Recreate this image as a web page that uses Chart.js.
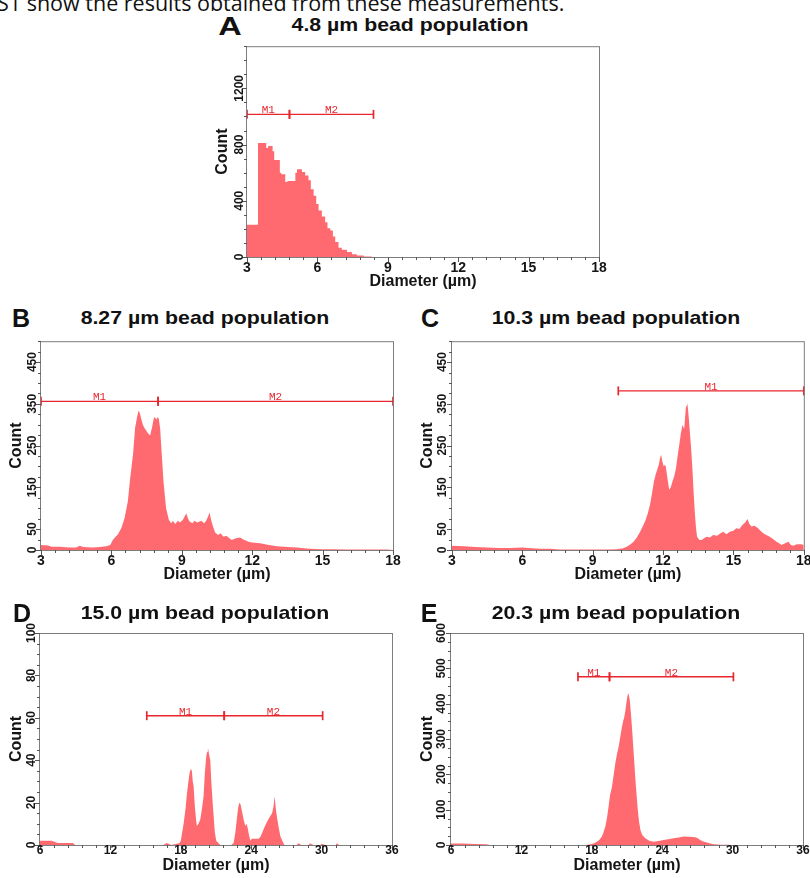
<!DOCTYPE html>
<html>
<head>
<meta charset="utf-8">
<script src="https://cdn.jsdelivr.net/npm/chart.js@4.4.1/dist/chart.umd.min.js"></script>
<style>
  html, body { margin: 0; padding: 0; background: #fff; }
  body { width: 810px; height: 878px; position: relative; overflow: hidden; font-family: "Liberation Sans", Arial, sans-serif; }
  canvas { position: absolute; }
  .lead { position: absolute; left: -3px; top: -8px; font-family: "Open Sans", sans-serif; font-size: 21.5px; line-height: 1; color: #111; white-space: nowrap; }
  .t { position: absolute; white-space: nowrap; line-height: 1; font-weight: bold; color: #111; }
  .ttl { font-size: 19px; transform: translateX(-50%) scaleX(1.12); }
  .let { font-size: 25px; transform: translateX(-50%); }
</style>
</head>
<body>
<div class="lead">S1 show the results obtained from these measurements.</div>

<canvas id="cA" width="406" height="252" style="left:205px;top:40px"></canvas>
<canvas id="cB" width="405" height="251" style="left:0px;top:335px"></canvas>
<canvas id="cC" width="399" height="251" style="left:411px;top:335px"></canvas>
<canvas id="cD" width="404" height="263" style="left:0px;top:615px"></canvas>
<canvas id="cE" width="399" height="263" style="left:411px;top:615px"></canvas>

<div class="t let" style="left:230px;top:14px;transform:translateX(-50%) scaleX(1.3)">A</div>
<div class="t ttl" style="left:410px;top:14.6px">4.8 µm bead population</div>
<div class="t let" style="left:21px;top:305.5px">B</div>
<div class="t ttl" style="left:205px;top:308px">8.27 µm bead population</div>
<div class="t let" style="left:430px;top:305.5px">C</div>
<div class="t ttl" style="left:616px;top:308px">10.3 µm bead population</div>
<div class="t let" style="left:22px;top:600.5px">D</div>
<div class="t ttl" style="left:205px;top:603px">15.0 µm bead population</div>
<div class="t let" style="left:429px;top:600.5px">E</div>
<div class="t ttl" style="left:616px;top:603px">20.3 µm bead population</div>

<script>
// ---- A: 4.8 µm beads (bin starts in µm, counts) ----
const aDiam = [3.0, 3.47, 3.82, 3.90, 4.09, 4.16, 4.40, 4.46, 4.63, 4.72, 5.06, 5.13, 5.34, 5.48, 5.62, 5.72, 5.84, 5.95, 6.05,
  6.19, 6.33, 6.43, 6.55, 6.66, 6.76, 6.90, 7.04, 7.26, 7.47, 7.68, 7.97, 8.32];
const aCount = [230, 812, 775, 790, 752, 690, 600, 588, 534, 540, 600, 625, 605, 580, 546, 482, 435, 377, 330,
  288, 247, 205, 188, 146, 106, 66, 52, 36, 19, 10, 4, 0];
const aMarkEdges = [3.0, 4.81, 8.39];
const aMarkNames = ['M1', 'M2'];
const aMarkLevel = 1015;
const aYTicks = [0, 400, 800, 1200];

// ---- B: 8.27 µm beads ----
const bDiam = [3.0, 3.3, 3.45, 3.8, 4.2, 4.5, 4.65, 4.8, 5.2, 5.5, 5.78, 5.95, 6.06, 6.18, 6.28, 6.42, 6.56, 6.70, 6.80, 6.92,
  7.01, 7.10, 7.16, 7.22, 7.27, 7.34, 7.41, 7.48, 7.55, 7.65, 7.74, 7.81, 7.86, 7.91, 7.96, 8.02, 8.08, 8.12, 8.22, 8.33,
  8.45, 8.55, 8.62, 8.72, 8.83, 8.92, 9.04, 9.12, 9.19, 9.26, 9.33, 9.45, 9.54, 9.66, 9.83, 9.95, 10.04, 10.12, 10.18, 10.25,
  10.32, 10.42, 10.55, 10.65, 10.78, 10.9, 11.03, 11.13, 11.3, 11.49, 11.6, 11.84, 12.0, 12.34, 12.6, 13.04, 13.5, 13.9,
  14.2, 14.47, 15.0, 15.46, 16.0, 16.45, 17.0, 17.73, 18.0];
const bCount = [12, 11, 8, 8, 6, 6, 10, 7, 6, 7, 9, 12, 24, 32, 38, 52, 76, 116, 172, 228,
  292, 320, 334, 326, 314, 300, 292, 286, 280, 274, 296, 316, 318, 312, 318, 314, 290, 252, 164, 100,
  72, 64, 70, 62, 70, 66, 72, 80, 88, 76, 68, 64, 70, 66, 70, 64, 70, 80, 90, 72,
  58, 42, 36, 40, 32, 34, 28, 24, 28, 30, 26, 20, 18, 16, 13, 9, 7, 6,
  4, 3, 2, 2, 1, 1, 1, 1, 0];
const bMarkEdges = [3.0, 7.99, 18.0];
const bMarkNames = ['M1', 'M2'];
const bMarkLevel = 356;
const bYTicks = [0, 50, 150, 250, 350, 450];

// ---- C: 10.3 µm beads ----
const cDiam = [3.0, 3.5, 4.0, 4.5, 5.0, 5.5, 6.0, 6.4, 6.8, 7.2, 7.6, 8.0, 9.0, 9.6, 10.03, 10.3, 10.45, 10.6, 10.74, 10.88,
  11.02, 11.13, 11.23, 11.34, 11.44, 11.53, 11.61, 11.68, 11.75, 11.82, 11.87, 11.92, 11.96, 12.03, 12.08, 12.12, 12.19, 12.26,
  12.33, 12.40, 12.48, 12.55, 12.62, 12.69, 12.76, 12.83, 12.90, 12.97, 13.04, 13.09, 13.14, 13.2, 13.25, 13.30, 13.35, 13.40,
  13.45, 13.55, 13.64, 13.75, 13.85, 14.0, 14.13, 14.3, 14.45, 14.56, 14.7, 14.84, 15.0, 15.12, 15.25, 15.38, 15.5, 15.60,
  15.68, 15.77, 15.9, 16.05, 16.15, 16.27, 16.4, 16.55, 16.7, 16.84, 16.95, 17.05, 17.2, 17.34, 17.45, 17.55, 17.7, 17.9, 18.0];
const cCount = [10, 9, 7, 6, 5, 5, 6, 4, 3, 3, 1, 1, 1, 1, 2, 4, 8, 13, 20, 30,
  44, 56, 68, 86, 108, 136, 164, 180, 192, 205, 220, 228, 214, 200, 205, 198, 170, 144,
  150, 164, 178, 196, 225, 252, 280, 300, 290, 340, 350, 320, 284, 240, 196, 140, 92, 55,
  32, 24, 24, 28, 32, 30, 36, 34, 40, 44, 38, 44, 46, 52, 50, 60, 66, 74,
  62, 56, 58, 52, 46, 40, 36, 32, 26, 20, 16, 12, 16, 20, 12, 10, 14, 14, 12];
const cMarkEdges = [10.09, 18.0];
const cMarkNames = ['M1'];
const cMarkLevel = 381;
const cYTicks = [0, 50, 150, 250, 350, 450];

// ---- D: 15.0 µm beads ----
const dDiam = [6.0, 7.0, 7.5, 8.8, 9.0, 16.5, 16.8, 17.2, 17.9, 18.0, 18.24, 18.4, 18.52, 18.65, 18.75, 18.85, 18.94, 19.02,
  19.09, 19.2, 19.3, 19.37, 19.5, 19.66, 19.8, 19.94, 20.05, 20.17, 20.25, 20.31, 20.4, 20.51, 20.6, 20.74, 20.9, 21.02,
  21.36, 22.3, 22.5, 22.65, 22.79, 22.9, 23.01, 23.1, 23.21, 23.35, 23.5, 23.6, 23.7, 23.8, 23.93, 24.05, 24.21, 24.4,
  24.64, 24.8, 24.92, 25.1, 25.35, 25.55, 25.78, 25.9, 26.0, 26.1, 26.2, 26.35, 26.49, 26.65, 26.83, 27.9, 28.0, 28.3,
  28.9, 29.0, 29.3, 29.9, 30.0, 30.3, 31.2, 31.3, 31.5, 36.0];
const dCount = [2, 2, 1, 1, 0, 0, 1, 0, 1, 2, 10, 17, 24, 30, 34, 36, 35, 30,
  28, 18, 12, 9, 10, 12, 17, 23, 34, 42, 44, 46, 43, 40, 30, 18, 6, 2,
  0, 0, 1, 6, 13, 18, 20, 19, 16, 12, 9, 10, 8, 5, 2, 3, 3, 3,
  3, 4, 5.5, 8, 11, 13, 15, 18, 23, 17, 13, 8, 4, 2, 0, 0, 0.8, 0,
  0, 0.8, 0, 0, 0.6, 0, 0, 0.8, 0, 0];
const dMarkEdges = [15.1, 21.7, 30.09];
const dMarkNames = ['M1', 'M2'];
const dMarkLevel = 61;
const dYTicks = [0, 20, 40, 60, 80, 100];

// ---- E: 20.3 µm beads ----
const eDiam = [6.0, 7.0, 8.0, 9.0, 9.3, 17.5, 17.87, 18.2, 18.44, 18.65, 18.86, 19.0, 19.15, 19.3, 19.43, 19.55, 19.72, 19.85,
  20.0, 20.15, 20.29, 20.42, 20.57, 20.67, 20.77, 20.86, 20.94, 21.02, 21.1, 21.16, 21.24, 21.34, 21.44, 21.57, 21.72, 21.82,
  21.92, 22.02, 22.15, 22.3, 22.56, 22.9, 23.27, 23.7, 24.12, 24.5, 24.97, 25.4, 25.82, 26.3, 26.82, 27.0, 27.24, 27.5,
  27.81, 28.1, 28.38, 29.0, 29.52, 30.0, 36.0];
const eCount = [4, 4, 3, 2, 0, 0, 2, 5, 9, 15, 24, 36, 52, 78, 109, 140, 165, 195,
  231, 258, 278, 305, 334, 350, 362, 380, 400, 418, 430, 424, 410, 370, 325, 260, 184, 140,
  99, 68, 42, 28, 19, 12, 9, 11, 14, 16, 19, 21, 24, 23, 22, 20, 14, 10,
  7, 4, 2, 1, 1, 0, 0];
const eMarkEdges = [16.82, 19.51, 30.07];
const eMarkNames = ['M1', 'M2'];
const eMarkLevel = 476;
const eYTicks = [0, 100, 200, 300, 400, 500, 600];

const FILL = 'rgb(255, 106, 112)';
const MARK = '#e8262d';
const FONT = '"Liberation Sans", Arial, sans-serif';

// frame, outward tick marks (major/minor), tick labels and marker names
const axisDecor = {
  id: 'axisDecor',
  afterDatasetsDraw(chart, args, o) {
    const {ctx, chartArea: ca, scales: {x, y}} = chart;
    ctx.save();
    ctx.strokeStyle = '#7d7d7d';
    ctx.lineWidth = 1;
    ctx.strokeRect(ca.left - 0.5, ca.top + 0.5, ca.right - ca.left + 1, ca.bottom - ca.top);

    ctx.strokeStyle = '#555';
    ctx.beginPath();
    const nx = Math.round((x.max - x.min) / o.xMinor);
    for (let i = 0; i <= nx; i++) {
      const px = Math.round(x.getPixelForValue(x.min + i * o.xMinor)) + 0.5;
      ctx.moveTo(px, ca.bottom);
      ctx.lineTo(px, ca.bottom + (i % 5 === 0 ? 5 : 3));
    }
    const ny = Math.round((y.max - y.min) / o.yMinor);
    for (let i = 0; i <= ny; i++) {
      const v = y.min + i * o.yMinor;
      const py = Math.round(y.getPixelForValue(v)) + 0.5;
      ctx.moveTo(ca.left, py);
      ctx.lineTo(ca.left - (o.yLabels.includes(v) ? 5 : 3), py);
    }
    ctx.stroke();

    ctx.fillStyle = '#151515';
    ctx.textAlign = 'center';
    ctx.textBaseline = 'middle';
    ctx.font = `bold ${o.xFont}px ${FONT}`;
    x.ticks.forEach(t => ctx.fillText(String(t.value), x.getPixelForValue(t.value), ca.bottom + o.xLabelGap));
    ctx.font = `bold 12px ${FONT}`;
    o.yLabels.forEach(v => {
      ctx.save();
      ctx.translate(ca.left - o.yLabelGap, y.getPixelForValue(v));
      ctx.rotate(-Math.PI / 2);
      ctx.fillText(String(v), 0, 0);
      ctx.restore();
    });

    // marker names sit on the marker bar
    ctx.fillStyle = MARK;
    ctx.font = `11px "Liberation Mono", monospace`;
    ctx.textBaseline = 'alphabetic';
    o.markNames.forEach((n, i) => {
      const mid = (o.markEdges[i] + o.markEdges[i + 1]) / 2;
      ctx.fillText(n, x.getPixelForValue(mid), y.getPixelForValue(o.markLevel) - 1);
    });
    ctx.restore();
  }
};

function panel(id, p) {
  const hist = p.diam.map((d, i) => ({x: d, y: p.count[i]}));
  const marks = p.markNames.map((n, i) => ({
    data: [{x: p.markEdges[i], y: p.markLevel}, {x: p.markEdges[i + 1], y: p.markLevel}],
    borderColor: MARK, borderWidth: 1.4, fill: false,
    pointStyle: 'line', rotation: 90, pointRadius: 4.5,
    pointBorderWidth: 1.7, pointBorderColor: MARK, clip: false
  }));
  const axisTitle = {weight: 'bold', size: 16, family: FONT};
  return new Chart(document.getElementById(id), {
    type: 'line',
    data: {
      datasets: [...marks, {
        data: hist, fill: 'origin', backgroundColor: FILL,
        borderWidth: 0, pointRadius: 0, tension: 0, stepped: p.stepped || false
      }]
    },
    options: {
      responsive: false, animation: false,
      layout: {padding: {top: p.padT || 4, right: p.padR, left: 0, bottom: 0}},
      plugins: {
        legend: {display: false},
        tooltip: {enabled: false},
        axisDecor: {
          xMinor: p.xStep / 5, yMinor: p.yMinor, yLabels: p.yTicks,
          xLabelGap: p.xLabelGap, yLabelGap: p.yLabelGap, xFont: p.xFont,
          markNames: p.markNames, markEdges: p.markEdges, markLevel: p.markLevel
        }
      },
      scales: {
        x: {
          type: 'linear', min: p.xMin, max: p.xMax,
          ticks: {display: false, stepSize: p.xStep},
          grid: {display: false}, border: {display: false},
          title: {display: true, text: 'Diameter (µm)', color: '#151515', font: axisTitle,
                  padding: {top: 0, bottom: p.xTitlePad}},
          afterFit: s => { s.height = p.xH; s.paddingLeft = 0; s.paddingRight = 0; }
        },
        y: {
          type: 'linear', min: 0, max: p.yMax,
          ticks: {display: false},
          grid: {display: false}, border: {display: false},
          title: {display: true, text: 'Count', color: '#151515', font: axisTitle,
                  padding: {top: p.yTitlePad, bottom: 0}},
          afterFit: s => { s.width = p.yW; s.paddingTop = 0; s.paddingBottom = 0; }
        }
      }
    },
    plugins: [axisDecor]
  });
}

panel('cA', {diam: aDiam, count: aCount, stepped: 'before', markEdges: aMarkEdges, markNames: aMarkNames, markLevel: aMarkLevel,
  yTicks: aYTicks, xMin: 3, xMax: 18, xStep: 3, yMax: 1500, yMinor: 100,
  xH: 35, yW: 42, padR: 12, xTitlePad: 0.4, yTitlePad: 7.9, xLabelGap: 11, yLabelGap: 7, xFont: 14});
panel('cB', {diam: bDiam, count: bCount, markEdges: bMarkEdges, markNames: bMarkNames, markLevel: bMarkLevel,
  yTicks: bYTicks, xMin: 3, xMax: 18, xStep: 3, yMax: 500, yMinor: 25,
  xH: 36, yW: 41, padR: 12, xTitlePad: 1.4, yTitlePad: 6.9, xLabelGap: 11.5, yLabelGap: 8, xFont: 14});
panel('cC', {diam: cDiam, count: cCount, markEdges: cMarkEdges, markNames: cMarkNames, markLevel: cMarkLevel,
  yTicks: cYTicks, xMin: 3, xMax: 18, xStep: 3, yMax: 500, yMinor: 25,
  xH: 36, yW: 41, padR: 6, xTitlePad: 1.4, yTitlePad: 7.4, xLabelGap: 11.5, yLabelGap: 9, xFont: 14});
panel('cD', {diam: dDiam, count: dCount, markEdges: dMarkEdges, markNames: dMarkNames, markLevel: dMarkLevel,
  yTicks: dYTicks, xMin: 6, xMax: 36, xStep: 6, yMax: 100, yMinor: 5,
  xH: 33, yW: 40, padT: 18, padR: 12, xTitlePad: 2.4, yTitlePad: 6.9, xLabelGap: 5.5, yLabelGap: 8.3, xFont: 12});
panel('cE', {diam: eDiam, count: eCount, markEdges: eMarkEdges, markNames: eMarkNames, markLevel: eMarkLevel,
  yTicks: eYTicks, xMin: 6, xMax: 36, xStep: 6, yMax: 600, yMinor: 25,
  xH: 33, yW: 40, padT: 18, padR: 7, xTitlePad: 2.4, yTitlePad: 7.4, xLabelGap: 5.5, yLabelGap: 9.3, xFont: 12});
</script>
</body>
</html>
